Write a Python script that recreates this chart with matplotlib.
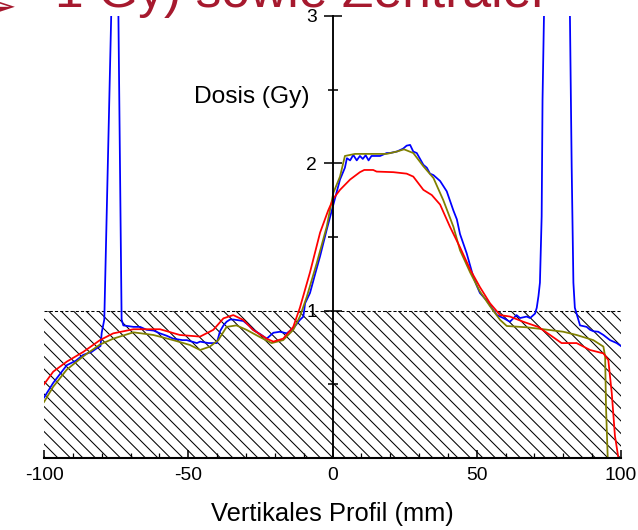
import matplotlib
matplotlib.use("Agg")
import matplotlib.pyplot as plt
from matplotlib.ticker import MultipleLocator

blue_x = [-100, -96.8, -92.1, -89, -86.4, -83.5, -81.7, -80.4, -80.0, -79.1, -75.0, -73.1,
          -72.5, -69, -66.7, -64.4, -62, -59.8, -57.5, -55.2, -52, -50.5, -47, -45.9, -43,
          -40.1, -39.0, -37.8, -36.7, -35.5, -34.4, -30.9, -29, -27.5, -25, -22.8, -20.5,
          -18.2, -15.9, -13.6, -11.3, -10.1, -9.5, -7.8, -6, -4.3, -2.0, 0.3, 2.6, 4.3, 5.0,
          6.1, 7.2, 8.4, 9.5, 10.5, 11.5, 12.5, 13.5, 14.5, 16.5, 18.8, 19.9, 22.3, 23.4,
          24.5, 25.7, 26.9, 28, 29.2, 31.5, 32.7, 33.8, 35, 37.3, 39.6, 41.9, 43.1, 44.2,
          46.5, 48.8, 50, 51.1, 53.4, 55.7, 57, 59.2, 61.5, 63.8, 65, 67.3, 68.5, 70.2,
          70.8, 71.4, 71.9, 72.5, 72.8, 73.3, 74.5, 80.5, 82.3, 82.9, 83.5, 84.0, 84.6,
          85.8, 88.1, 89.3, 90.5, 92.1, 93.9, 96.2, 98.5, 100]
blue_y = [0.41, 0.51, 0.63, 0.66, 0.70, 0.72, 0.745, 0.76, 0.85, 0.94, 4.47, 0.94,
          0.90, 0.89, 0.89, 0.87, 0.865, 0.846, 0.83, 0.81, 0.80, 0.80, 0.78, 0.79, 0.78,
          0.78, 0.86, 0.90, 0.925, 0.94, 0.94, 0.93, 0.90, 0.87, 0.84, 0.81, 0.85,
          0.857, 0.846, 0.88, 0.937, 0.96, 1.05, 1.12, 1.25, 1.37, 1.55, 1.72, 1.89, 1.97, 2.035,
          2.02, 2.057, 2.02, 2.05, 2.03, 2.055, 2.02, 2.05, 2.05, 2.05, 2.07, 2.07, 2.08, 2.09,
          2.10, 2.12, 2.125, 2.08, 2.07, 1.99, 1.97, 1.93, 1.92, 1.88, 1.81, 1.68, 1.62, 1.52,
          1.39, 1.23, 1.17, 1.12, 1.07, 1.005, 0.97, 0.95, 0.925, 0.97, 0.95, 0.96, 0.95, 0.98,
          1.02, 1.10, 1.19, 1.64, 2.43, 3.0, 3.8, 3.8, 3.0, 1.98, 1.19, 1.02, 0.98,
          0.90, 0.89, 0.87, 0.86, 0.857, 0.835, 0.80, 0.78, 0.76]

red_x = [-100, -96.8, -92.1, -86.4, -80.6, -76, -69, -59.8, -52.9, -45.9, -41.3, -37.8,
         -34.4, -30.9, -27.5, -22.8, -20.5, -17.1, -13.6, -11.3, -7.8, -4.3, -1.5, 0.3, 2.6,
         6.1, 9.5, 11, 14.1, 15.3, 21.1, 25.7, 28, 31.5, 34.4, 37.3, 40.7, 44.2, 47.7, 51.1,
         54.6, 58.1, 61.5, 66.1, 71.3, 75.4, 79.4, 84.6, 89.3, 93.9, 95.6, 96.8, 97.9, 99.1]
red_y = [0.50, 0.586, 0.654, 0.72, 0.80, 0.846, 0.874, 0.874, 0.835, 0.824, 0.87, 0.948,
         0.97, 0.937, 0.869, 0.81, 0.79, 0.81, 0.89, 1.02, 1.26, 1.53, 1.68, 1.76, 1.82,
         1.89, 1.94, 1.955, 1.955, 1.944, 1.94, 1.93, 1.91, 1.82, 1.785, 1.72, 1.57, 1.43, 1.28, 1.16,
         1.05, 0.97, 0.96, 0.925, 0.89, 0.835, 0.78, 0.78, 0.733, 0.71, 0.665, 0.44, 0.15, 0.0]

olive_x = [-100, -96.8, -92.1, -86.4, -80.6, -76, -69, -62.1, -55.2, -49.4, -45.9, -42.5,
           -39.6, -36.7, -33.3, -29.8, -25.1, -21.1, -17.1, -13.6, -11.3, -8.9, -5.5, -2.0,
           0.3, 2.6, 4.3, 7.8, 18.8, 22.3, 24.8, 28, 31.5, 35, 38.4, 41.9, 44.2, 47.7, 51.1,
           54.6, 58.1, 60.4, 67.3, 73.1, 80, 84.6, 90.4, 93.9, 94.5, 94.8, 95.4, 99]
olive_y = [0.38, 0.484, 0.60, 0.69, 0.77, 0.81, 0.853, 0.835, 0.80, 0.767, 0.733, 0.756,
           0.80, 0.89, 0.90, 0.87, 0.82, 0.78, 0.80, 0.87, 0.96, 1.095, 1.32, 1.57,
           1.80, 1.91, 2.05, 2.064, 2.064, 2.08, 2.095, 2.07, 1.98, 1.90, 1.75, 1.57, 1.41, 1.26, 1.13,
           1.03, 0.937, 0.896, 0.887, 0.874, 0.857, 0.835, 0.80, 0.756, 0.69, 0.35, 0.0, 0.0]

grenze_x = [-100, 100]
grenze_y = 1.0

xticks = [-100, -50, 0, 50, 100]
yticks = [1, 2, 3]

plt.rcParams['font.family'] = ['Liberation Sans', 'DejaVu Sans']

fig = plt.figure(figsize=(638 / 75, 530 / 75), dpi=75)
ax = fig.add_axes([44 / 638, 72 / 530, 577 / 638, 442 / 530])

# schraffierter Bereich bis 1 Gy
ax.fill_between(grenze_x, 0, grenze_y, facecolor='none', edgecolor='black',
                hatch='\\\\', linewidth=0)
ax.hlines(grenze_y, grenze_x[0], grenze_x[1], colors='black', linewidth=1,
          linestyles=(0, (3, 2)))

ax.plot(blue_x, blue_y, color='#0000FF', linewidth=1.7)
ax.plot(olive_x, olive_y, color='#808000', linewidth=1.7)
ax.plot(red_x, red_y, color='#FF0000', linewidth=1.7)

ax.set_xlim(-100, 100)
ax.set_ylim(0, 3)

# Achsen im Nullpunkt
ax.spines['left'].set_position(('data', 0))
ax.spines['top'].set_visible(False)
ax.spines['right'].set_visible(False)
ax.spines['left'].set_linewidth(1.8)
ax.spines['bottom'].set_linewidth(2)

ax.set_xticks(xticks)
ax.set_xticklabels([str(t) for t in xticks])
ax.xaxis.set_minor_locator(MultipleLocator(10))
ax.set_yticks(yticks)
ax.set_yticklabels([str(t) for t in yticks])
ax.yaxis.set_minor_locator(MultipleLocator(0.5))

ax.tick_params(axis='x', which='major', direction='in', length=8, width=1.5,
               labelsize=18.5, pad=9)
ax.tick_params(axis='x', which='minor', direction='in', length=5, width=1.2)
ax.tick_params(axis='y', which='major', direction='inout', length=18, width=1.5,
               labelsize=18.5, pad=6)
ax.tick_params(axis='y', which='minor', direction='inout', length=9, width=1.5)

ax.set_xlabel("Vertikales Profil (mm)", fontsize=24.5, labelpad=17)
ax.text(-8, 2.45, "Dosis (Gy)", fontsize=23.5, ha='right', va='center')

# abgeschnittene Folienüberschrift
fig.text(16 / 638, 1 - 20 / 530, "➢", fontsize=40, color='#A6192E',
         ha='right', va='baseline')
fig.text(55 / 638, 1 - 7 / 530, "1 Gy) sowie Zentraler", fontsize=49.5,
         color='#A6192E', ha='left', va='baseline')

fig.savefig("out.png", dpi=75)
